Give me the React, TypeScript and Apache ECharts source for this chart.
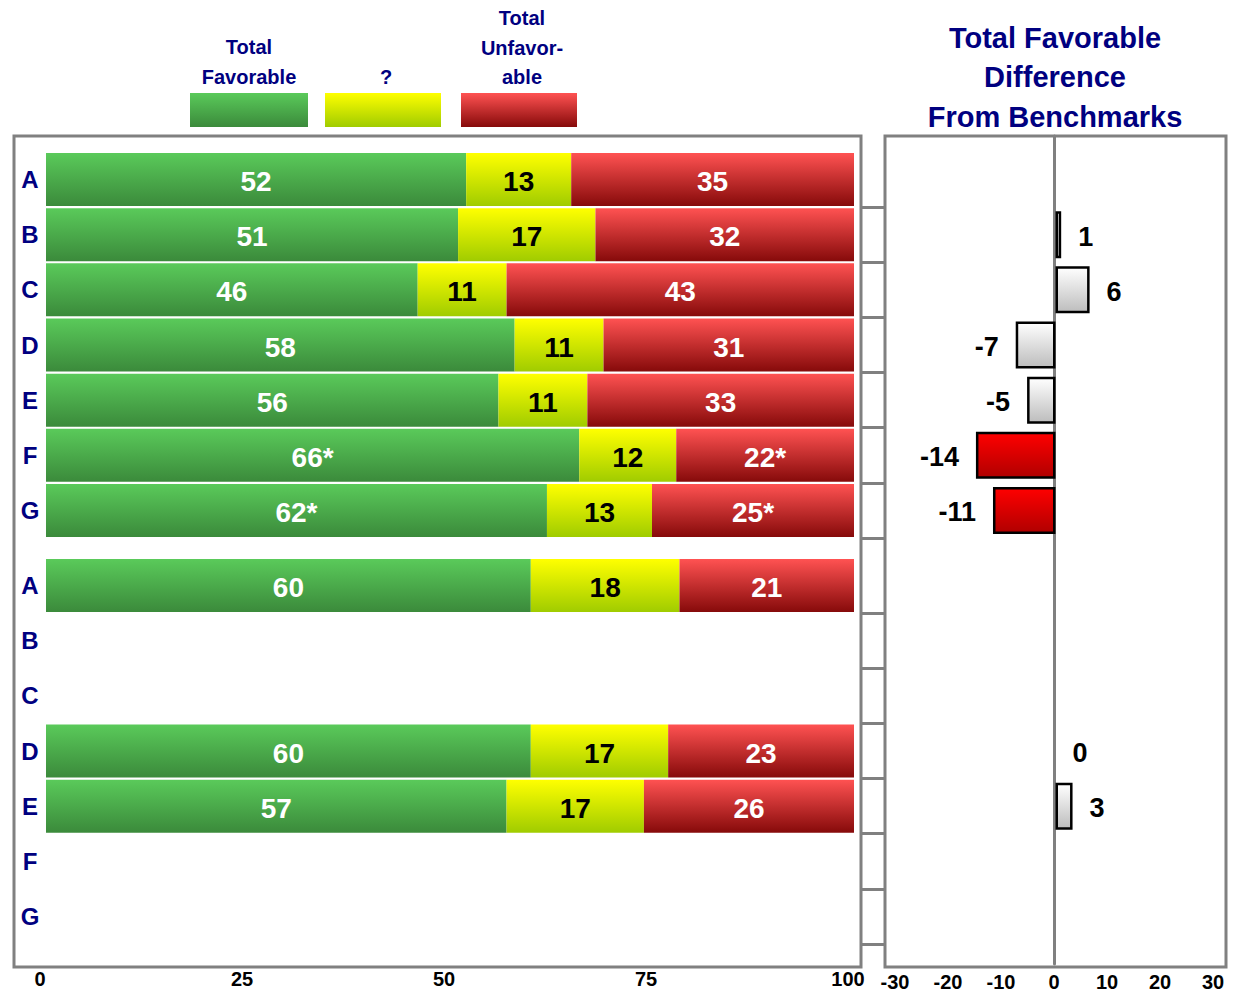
import React, { useEffect, useRef } from "react";
import * as echarts from "echarts";

const categories = ["A", "B", "C", "D", "E", "F", "G"];

// Upper block
const favTop = [52, 51, 46, 58, 56, 66, 62];
const neuTop = [13, 17, 11, 11, 11, 12, 13];
const unfTop = [35, 32, 43, 31, 33, 22, 25];
const favTopLabels = ["52", "51", "46", "58", "56", "66*", "62*"];
const neuTopLabels = ["13", "17", "11", "11", "11", "12", "13"];
const unfTopLabels = ["35", "32", "43", "31", "33", "22*", "25*"];

// Lower block
const favBot = [60, null, null, 60, 57, null, null];
const neuBot = [18.4, null, null, 17, 17, null, null];
const unfBot = [21.6, null, null, 23, 26, null, null];
const favBotLabels = ["60", "", "", "60", "57", "", ""];
const neuBotLabels = ["18", "", "", "17", "17", "", ""];
const unfBotLabels = ["21", "", "", "23", "26", "", ""];

// Difference from benchmarks
const diffTop = [null, 1, 6, -7, -5, -14, -11];
const diffTopSig = [false, false, false, false, false, true, true];
const diffBot = [null, null, null, 0, 3, null, null];
const diffBotSig = [false, false, false, false, false, false, false];

const leftTicks = { min: 0, max: 100, interval: 25 };
const rightTicks = { min: -30, max: 30, interval: 10 };

const FONT = "'Liberation Sans', Arial, Helvetica, sans-serif";
const NAVY = "#000080";
const GRAY = "#808080";

const grad = (a: string, b: string) =>
  new echarts.graphic.LinearGradient(0, 0, 0, 1, [
    { offset: 0, color: a },
    { offset: 1, color: b },
  ]);

const GREEN = () => grad("#5aca5a", "#3b8a3b");
const YELLOW = () => grad("#ffff00", "#a0cc00");
const RED = () => grad("#ff5252", "#860a0a");
const GRAYBAR = () => grad("#ffffff", "#bdbdbd");
const REDBAR = () => grad("#ff0000", "#b00000");

export default function App() {
  const ref = useRef<HTMLDivElement>(null);

  useEffect(() => {
    if (!ref.current) return;
    const chart = echarts.init(ref.current, null, { renderer: "svg" });

    const barLabel = (color: string, labels: string[]) => ({
      show: true,
      position: "inside",
      offset: [0, 2],
      color,
      fontFamily: FONT,
      fontWeight: "bold",
      fontSize: 28,
      formatter: (p: any) => labels[p.dataIndex],
    });

    const leftSeries = (
      fav: (number | null)[],
      neu: (number | null)[],
      unf: (number | null)[],
      idx: number,
      stack: string,
      favL: string[],
      neuL: string[],
      unfL: string[]
    ) => [
      {
        type: "bar",
        xAxisIndex: idx,
        yAxisIndex: idx,
        stack,
        barWidth: 53,
        data: fav,
        itemStyle: { color: GREEN() },
        label: barLabel("#ffffff", favL),
      },
      {
        type: "bar",
        xAxisIndex: idx,
        yAxisIndex: idx,
        stack,
        barWidth: 53,
        data: neu,
        itemStyle: { color: YELLOW() },
        label: barLabel("#000000", neuL),
      },
      {
        type: "bar",
        xAxisIndex: idx,
        yAxisIndex: idx,
        stack,
        barWidth: 53,
        data: unf,
        itemStyle: { color: RED() },
        label: barLabel("#ffffff", unfL),
      },
    ];

    const diffData = (vals: (number | null)[], sig: boolean[]) =>
      vals.map((v, i) => {
        if (v === null) return null;
        return {
          value: v,
          itemStyle:
            v === 0
              ? { color: "transparent", borderWidth: 0 }
              : {
                  color: sig[i] ? REDBAR() : GRAYBAR(),
                  borderColor: "#000000",
                  borderWidth: 2.5,
                },
          label: { position: v < 0 ? "left" : "right" },
        };
      });

    const diffSeries = (vals: (number | null)[], sig: boolean[], idx: number) => ({
      type: "bar",
      xAxisIndex: idx,
      yAxisIndex: idx,
      barWidth: 47,
      data: diffData(vals, sig),
      z: 3,
      label: {
        show: true,
        distance: 17,
        offset: [0, 2],
        color: "#000000",
        fontFamily: FONT,
        fontWeight: "bold",
        fontSize: 27,
        formatter: (p: any) => String(p.value),
      },
    });

    const hiddenVal = (min = 0, max = 1) => ({
      type: "value",
      min,
      max,
      show: false,
    });

    const catAxis = (gridIndex: number, showLabels: boolean, ticks: boolean) => ({
      type: "category",
      gridIndex,
      data: categories,
      inverse: true,
      position: "left",
      axisLine: { show: false, onZero: false },
      axisTick: ticks
        ? {
            show: true,
            length: 23,
            interval: (i: number) => i > 0,
            lineStyle: { color: GRAY, width: 3 },
          }
        : { show: false },
      axisLabel: showLabels
        ? {
            show: true,
            color: NAVY,
            fontFamily: FONT,
            fontWeight: "bold",
            fontSize: 24,
            align: "center",
            margin: 16,
          }
        : { show: false },
      splitLine: { show: false },
    });

    const option: any = {
      animation: false,
      backgroundColor: "#ffffff",
      grid: [
        // 0 left frame
        { left: 14, top: 136, width: 847, height: 831, show: true, borderColor: GRAY, borderWidth: 3, backgroundColor: "transparent" },
        // 1 left top data
        { left: 46, top: 152, width: 808, height: 386 },
        // 2 left bottom data
        { left: 46, top: 558, width: 808, height: 386 },
        // 3 right frame
        { left: 885, top: 136, width: 341, height: 831, show: true, borderColor: GRAY, borderWidth: 3, backgroundColor: "transparent" },
        // 4 right top data
        { left: 885, top: 152, width: 341, height: 386 },
        // 5 right bottom data
        { left: 885, top: 558, width: 341, height: 386 },
        // 6 right labels + zero line
        { left: 895, top: 136, width: 318, height: 831 },
      ],
      xAxis: [
        { ...hiddenVal(), gridIndex: 0 },
        { type: "value", gridIndex: 1, ...leftTicks, show: false },
        {
          type: "value",
          gridIndex: 2,
          ...leftTicks,
          axisLine: { show: false },
          axisTick: { show: false },
          splitLine: { show: false },
          axisLabel: {
            show: true,
            color: "#000000",
            fontFamily: FONT,
            fontWeight: "bold",
            fontSize: 20,
            margin: 25,
            padding: [0, 12, 0, 0],
          },
        },
        { ...hiddenVal(), gridIndex: 3 },
        { type: "value", gridIndex: 4, ...rightTicks, show: false },
        { type: "value", gridIndex: 5, ...rightTicks, show: false },
        {
          type: "value",
          gridIndex: 6,
          ...rightTicks,
          position: "bottom",
          axisLine: { show: false, onZero: false },
          axisTick: { show: false },
          splitLine: { show: false },
          axisLabel: {
            show: true,
            color: "#000000",
            fontFamily: FONT,
            fontWeight: "bold",
            fontSize: 20,
            margin: 8,
          },
        },
      ],
      yAxis: [
        { ...hiddenVal(), gridIndex: 0 },
        catAxis(1, true, false),
        catAxis(2, true, false),
        { ...hiddenVal(), gridIndex: 3 },
        catAxis(4, false, true),
        catAxis(5, false, true),
        {
          type: "value",
          gridIndex: 6,
          min: 0,
          max: 1,
          axisLine: { show: true, onZero: true, lineStyle: { color: GRAY, width: 3 } },
          axisTick: { show: false },
          axisLabel: { show: false },
          splitLine: { show: false },
        },
      ],
      series: [
        ...leftSeries(favTop, neuTop, unfTop, 1, "top", favTopLabels, neuTopLabels, unfTopLabels),
        ...leftSeries(favBot, neuBot, unfBot, 2, "bot", favBotLabels, neuBotLabels, unfBotLabels),
        diffSeries(diffTop, diffTopSig, 4),
        diffSeries(diffBot, diffBotSig, 5),
      ],
      graphic: [
        { type: "rect", shape: { x: 190, y: 93, width: 118, height: 34 }, style: { fill: GREEN() } },
        { type: "rect", shape: { x: 325, y: 93, width: 116, height: 34 }, style: { fill: YELLOW() } },
        { type: "rect", shape: { x: 461, y: 93, width: 116, height: 34 }, style: { fill: RED() } },
        {
          type: "text",
          x: 249,
          y: 92,
          style: { text: "Total\nFavorable", align: "center", verticalAlign: "bottom", fill: NAVY, fontFamily: FONT, fontWeight: "bold", fontSize: 20, lineHeight: 30 },
        },
        {
          type: "text",
          x: 386,
          y: 92,
          style: { text: "?", align: "center", verticalAlign: "bottom", fill: NAVY, fontFamily: FONT, fontWeight: "bold", fontSize: 20, lineHeight: 30 },
        },
        {
          type: "text",
          x: 522,
          y: 92,
          style: { text: "Total\nUnfavor-\nable", align: "center", verticalAlign: "bottom", fill: NAVY, fontFamily: FONT, fontWeight: "bold", fontSize: 20, lineHeight: 29.5 },
        },
        {
          type: "text",
          x: 1055,
          y: 18,
          style: { text: "Total Favorable\nDifference\nFrom Benchmarks", align: "center", verticalAlign: "top", fill: NAVY, fontFamily: FONT, fontWeight: "bold", fontSize: 29, lineHeight: 39.5 },
        },
      ],
    };

    chart.setOption(option);
    return () => chart.dispose();
  }, []);

  return (
    <div
      ref={ref}
      style={{ position: "absolute", left: 0, top: 0, width: 1243, height: 992 }}
    />
  );
}
